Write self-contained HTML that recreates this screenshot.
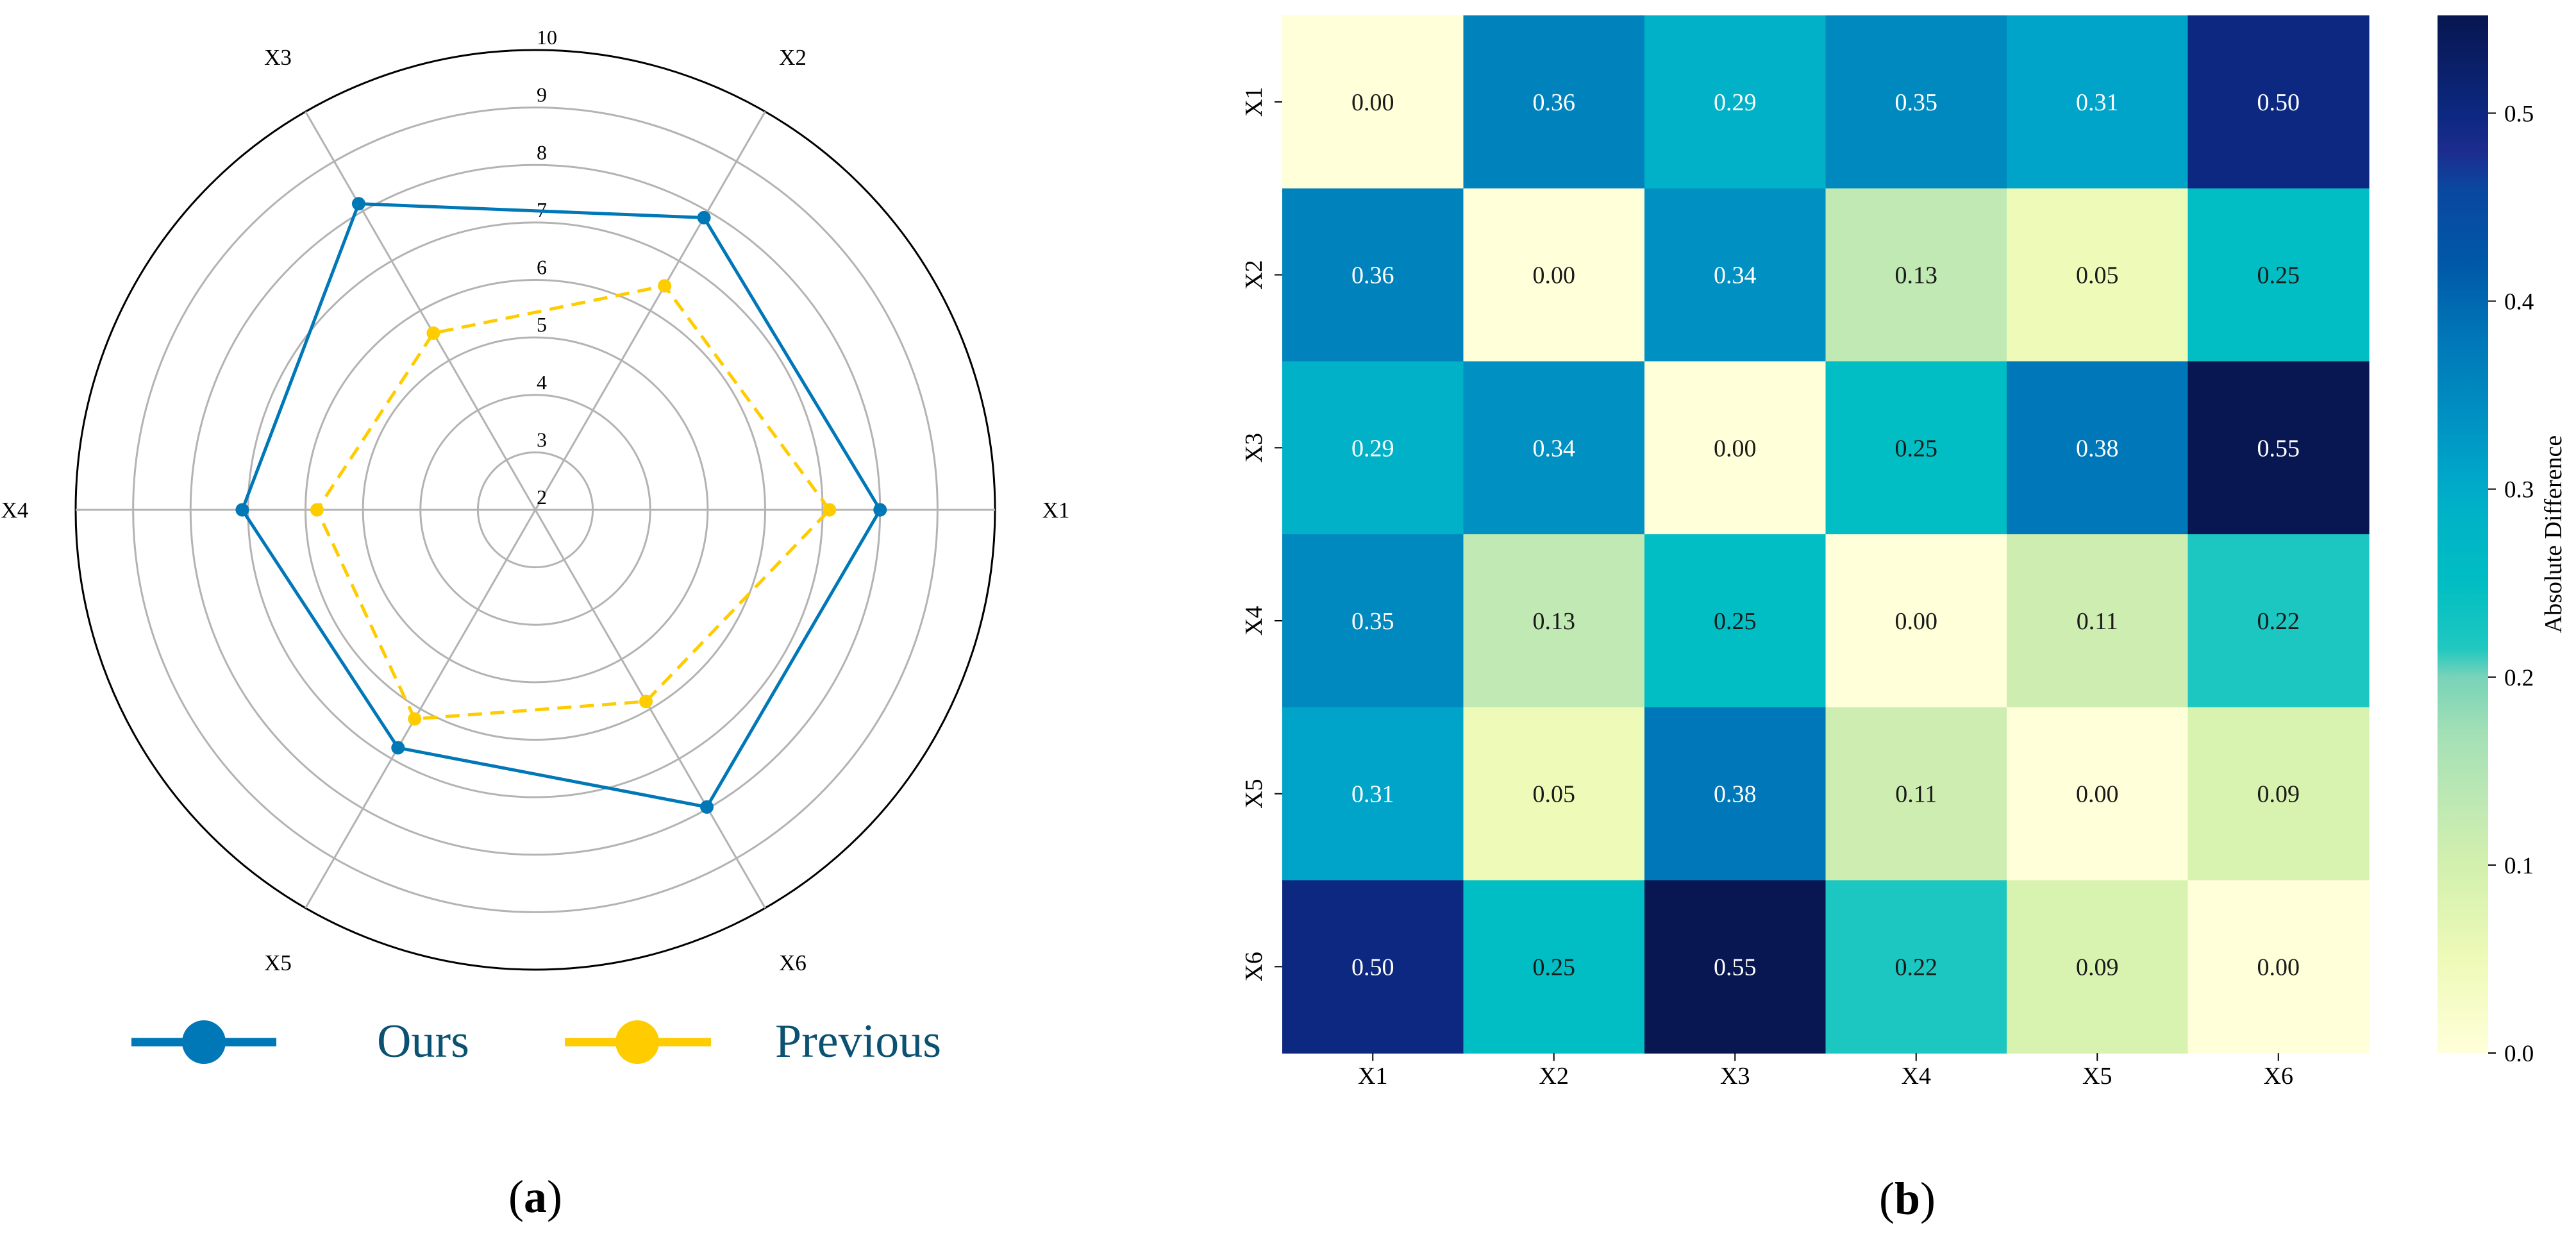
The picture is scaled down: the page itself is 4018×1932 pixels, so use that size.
<!DOCTYPE html>
<html><head><meta charset="utf-8"><style>
html,body{margin:0;padding:0;background:#fff;}
svg{display:block;font-family:"Liberation Serif","DejaVu Serif",serif;}
</style></head><body>
<svg id="fig" width="4018" height="1932" viewBox="0 0 4018 1932" xmlns="http://www.w3.org/2000/svg">
<g id="radar"></g>
<g id="heat"></g>
<text x="835" y="1890" font-size="72" text-anchor="middle">(<tspan font-weight="bold">a</tspan>)</text>
<text x="2975" y="1893" font-size="72" text-anchor="middle">(<tspan font-weight="bold">b</tspan>)</text>
</svg>
<script>
// ---------- Radar data ----------
const radarAxes = ["X1","X2","X3","X4","X5","X6"];
const oursValues = [8.0, 7.87, 8.15, 7.1, 6.78, 7.97];
const previousValues = [7.12, 6.5, 5.55, 5.8, 6.2, 5.85];
const radialTicks = [2,3,4,5,6,7,8,9,10];
// ---------- Heatmap data ----------
const heatLabels = ["X1","X2","X3","X4","X5","X6"];
const heatRow1 = [0.00,0.36,0.29,0.35,0.31,0.50];
const heatRow2 = [0.36,0.00,0.34,0.13,0.05,0.25];
const heatRow3 = [0.29,0.34,0.00,0.25,0.38,0.55];
const heatRow4 = [0.35,0.13,0.25,0.00,0.11,0.22];
const heatRow5 = [0.31,0.05,0.38,0.11,0.00,0.09];
const heatRow6 = [0.50,0.25,0.55,0.22,0.09,0.00];
const colorbarTicks = [0.0,0.1,0.2,0.3,0.4,0.5];

const NS="http://www.w3.org/2000/svg";
function mk(tag,attrs,parent){const e=document.createElementNS(NS,tag);for(const k in attrs)e.setAttribute(k,attrs[k]);parent.appendChild(e);return e;}

// ---- radar ----
const R=document.getElementById('radar');
const cx=835, cy=795, rOuter=717, rMin=2, rMax=10;
function rScale(v){return (v-rMin)/(rMax-rMin)*rOuter;}
function ang(i){return i*Math.PI/3;}
function pt(i,v){const r=rScale(v);return [cx+r*Math.cos(ang(i)), cy-r*Math.sin(ang(i))];}
radialTicks.forEach(t=>{
  if(t===rMin)return;
  const c=mk('circle',{cx:cx,cy:cy,r:rScale(t),fill:'none',stroke:t===rMax?'#000':'#b3b3b3','stroke-width':3},R);
  
  
});
radarAxes.forEach((a,i)=>{
  const p=pt(i,rMax);
  const l=mk('line',{x1:cx,y1:cy,x2:p[0],y2:p[1],stroke:'#b3b3b3','stroke-width':3},R);
  
  
});
radialTicks.forEach(t=>{
  const tx=mk('text',{x:837,y:cy-rScale(t)-9,'font-size':32},R);
  tx.textContent=t;
  
  
});
radarAxes.forEach((a,i)=>{
  const r=rOuter+95;
  let x=cx+r*1.0*Math.cos(ang(i)), y=cy-(rOuter+ (i%3===0?0:98))*Math.sin(ang(i));
  if(i%3!==0){x=cx+(rOuter*0.56)*Math.sign(Math.cos(ang(i)));}
  const tx=mk('text',{x:x,y:y+12,'font-size':35,'text-anchor':'middle'},R);
  tx.textContent=a;
  
  
});
function series(vals,color,dash,name){
  const pts=vals.map((v,i)=>pt(i,v));
  const pg=mk('polygon',{points:pts.map(p=>p.join(',')).join(' '),fill:'none',stroke:color,'stroke-width':5,'stroke-linejoin':'miter'},R);
  if(dash)pg.setAttribute('stroke-dasharray',dash);
  
  
  pts.forEach(p=>{
    const c=mk('circle',{cx:p[0],cy:p[1],r:10.5,fill:color},R);
    
    
  });
}
series(previousValues,'#ffcc00','22 13','previous');
series(oursValues,'#0077b6',null,'ours');
// legend
const lg=mk('g',{},R);


[[205,431,318,'#0077b6','Ours',588],[881,1109,994,'#ffcc00','Previous',1209]].forEach(d=>{
  const g=mk('g',{},lg);
  
  
  mk('line',{x1:d[0],x2:d[1],y1:1625,y2:1625,stroke:d[3],'stroke-width':13},g);
  mk('circle',{cx:d[2],cy:1625,r:34,fill:d[3]},g);
  const t=mk('text',{x:d[5],y:1648,'font-size':74,fill:'#0b5272'},g);
  t.textContent=d[4];
});

// ---- heatmap ----
const H=document.getElementById('heat');
const heatRows=[heatRow1,heatRow2,heatRow3,heatRow4,heatRow5,heatRow6];
const hx0=2000, hy0=24, cw=282.5, ch=269.7, vmax=0.552;
const cmV=[0,0.05,0.1,0.13,0.17,0.2,0.215,0.25,0.29,0.31,0.35,0.38,0.42,0.46,0.48,0.5,0.552];
const cmC=['#ffffd9','#eefab8','#d3f0ae','#c0e9b3','#a4e0b6','#78d3b9','#20c8c0','#00bec3','#00b1c7','#00a4c9','#0089bf','#0077b8','#0058a8','#0a47a0','#1c2c8e','#0c2880','#081650'];
function hex(c){return [1,3,5].map(i=>parseInt(c.substr(i,2),16));}
function cmap(v){
  for(let i=0;i<cmV.length-1;i++){
    if(v<=cmV[i+1]){const f=(v-cmV[i])/(cmV[i+1]-cmV[i]);const a=hex(cmC[i]),b=hex(cmC[i+1]);
      return 'rgb('+a.map((x,k)=>Math.round(x+(b[k]-x)*f)).join(',')+')';}
  }
  return cmC[cmC.length-1];
}
heatRows.forEach((row,r)=>{
  row.forEach((v,c)=>{
    const rc=mk('rect',{x:hx0+c*cw,y:hy0+r*ch,width:cw+0.6,height:ch+0.6,fill:cmap(v)},H);
    
    
    const t=mk('text',{x:hx0+(c+0.5)*cw,y:hy0+(r+0.5)*ch+13,'font-size':38,'text-anchor':'middle',fill:v>0.27?'#fff':'#1a1a1a'},H);
    t.textContent=v.toFixed(2);
    
    
  });
});
heatLabels.forEach((l,i)=>{
  const x=hx0+(i+0.5)*cw;
  mk('line',{x1:x,x2:x,y1:hy0+6*ch,y2:hy0+6*ch+12,stroke:'#000','stroke-width':2},H);
  const t=mk('text',{x:x,y:1690,'font-size':38,'text-anchor':'middle'},H);
  t.textContent=l;
  
  
  const y=hy0+(i+0.5)*ch;
  mk('line',{x1:hx0-12,x2:hx0,y1:y,y2:y,stroke:'#000','stroke-width':2},H);
  const ty=mk('text',{x:0,y:0,'font-size':38,'text-anchor':'middle',transform:'translate(1968,'+y+') rotate(-90)'},H);
  ty.textContent=l;
  
  
});
// colorbar
const cbx=3802, cbw=79, cby0=24, cby1=1642;
const defs=mk('defs',{},H);
const grad=mk('linearGradient',{id:'cbg',x1:0,y1:1,x2:0,y2:0},defs);
cmV.forEach((v,i)=>mk('stop',{offset:v/vmax,'stop-color':cmC[i]},grad));
const cb=mk('rect',{x:cbx,y:cby0,width:cbw,height:cby1-cby0,fill:'url(#cbg)'},H);


colorbarTicks.forEach(t=>{
  const y=cby1-(t/vmax)*(cby1-cby0);
  mk('line',{x1:cbx+cbw,x2:cbx+cbw+12,y1:y,y2:y,stroke:'#000','stroke-width':2},H);
  const tx=mk('text',{x:3906,y:y+13,'font-size':37},H);
  tx.textContent=t.toFixed(1);
  
  
});
const cbl=mk('text',{x:0,y:0,'font-size':38,'text-anchor':'middle',transform:'translate(3995,833) rotate(-90)'},H);
cbl.textContent='Absolute Difference';


</script>
</body></html>
